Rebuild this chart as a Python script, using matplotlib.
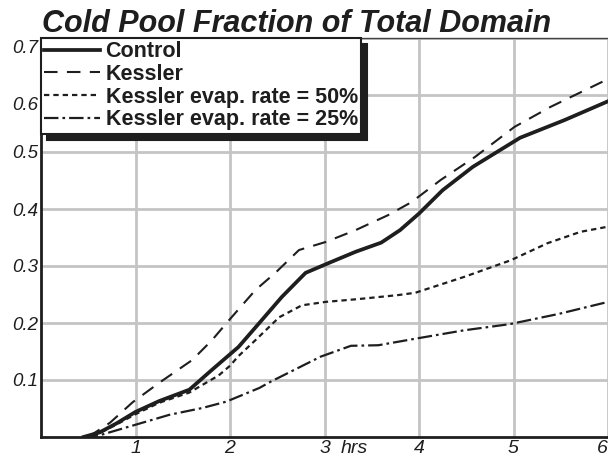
import matplotlib
matplotlib.use("Agg")
import matplotlib.pyplot as plt
from matplotlib.transforms import ScaledTranslation

plt.rcParams['font.family'] = ['Liberation Sans', 'DejaVu Sans']

# hours vs cold pool fraction
t_ctrl = [0.45, 0.62, 0.8, 1.0, 1.25, 1.57, 1.81, 2.09, 2.31, 2.55, 2.8, 3.07,
          3.33, 3.6, 3.8, 4.0, 4.25, 4.57, 5.07, 5.54, 6.0]
ctrl = [0, 0.008, 0.024, 0.044, 0.063, 0.083, 0.118, 0.158, 0.20, 0.246, 0.288,
        0.307, 0.325, 0.341, 0.363, 0.392, 0.433, 0.474, 0.525, 0.556, 0.589]

t_kess = [0.5, 0.73, 0.97, 1.25, 1.6, 1.81, 1.99, 2.27, 2.48, 2.73, 3.01, 3.33,
          3.67, 3.92, 4.23, 4.59, 5.01, 5.39, 6.0]
kess = [0, 0.025, 0.061, 0.095, 0.135, 0.17, 0.205, 0.258, 0.288, 0.328, 0.342,
        0.363, 0.389, 0.412, 0.451, 0.491, 0.544, 0.579, 0.628]

t_k50 = [0.45, 0.62, 0.8, 1.0, 1.25, 1.57, 1.88, 2.0, 2.09, 2.27, 2.52, 2.76,
         3.01, 3.36, 3.78, 3.96, 4.48, 4.97, 5.36, 5.71, 6.0]
k50 = [0, 0.007, 0.022, 0.04, 0.060, 0.078, 0.108, 0.125, 0.142, 0.17, 0.21,
       0.231, 0.237, 0.242, 0.249, 0.253, 0.281, 0.31, 0.34, 0.36, 0.369]

t_k25 = [0.45, 0.62, 1.01, 1.36, 1.71, 1.96, 2.31, 2.43, 2.96, 3.28, 3.57,
         3.98, 4.47, 4.96, 5.48, 6.0]
k25 = [0, 0.003, 0.022, 0.039, 0.051, 0.062, 0.086, 0.097, 0.141, 0.16, 0.161,
       0.173, 0.187, 0.198, 0.216, 0.237]

labels = ['Control', 'Kessler', 'Kessler evap. rate = 50%',
          'Kessler evap. rate = 25%']
xticks = [1, 2, 3, 4, 5, 6]
yticks = [0.1, 0.2, 0.3, 0.4, 0.5, 0.6, 0.7]

fig = plt.figure(figsize=(6.08, 4.59), dpi=100)
ax = fig.add_axes([41 / 608, 22 / 459, 567 / 608, 399 / 459])

ink = '#1e1e1e'
ax.plot(t_ctrl, ctrl, color=ink, lw=2.7, label=labels[0],
        solid_joinstyle='round')
ax.plot(t_kess, kess, color=ink, lw=1.5, dashes=(6.5, 4.5), label=labels[1])
ax.plot(t_k50, k50, color=ink, lw=1.6, dashes=(2.4, 1.8), label=labels[2])
ax.plot(t_k25, k25, color=ink, lw=1.6, dashes=(6.5, 1.8, 1.2, 1.8),
        label=labels[3])

ax.set_xlim(0, 6)
ax.set_ylim(0, 0.7)
ax.set_xticks(xticks)
ax.set_xticklabels([str(v) for v in xticks], fontstyle='italic', fontsize=14)
ax.set_yticks(yticks)
ax.set_yticklabels(['%.1f' % v for v in yticks], fontstyle='italic', fontsize=13.5)
ax.tick_params(axis='both', length=0, colors=ink)
ax.tick_params(axis='x', pad=2)
ax.tick_params(axis='y', pad=2)
ax.grid(True, color='#c4c4c4', lw=2.0)
ax.set_axisbelow(True)

ax.spines['right'].set_visible(False)
ax.spines['top'].set_color('#444444')
ax.spines['top'].set_linewidth(1.0)
for s in ('left', 'bottom'):
    ax.spines[s].set_color(ink)
    ax.spines[s].set_linewidth(2.0)

# top two y labels sit a bit lower in the original
for tick in ax.yaxis.get_major_ticks()[-2:]:
    tick.label1.set_transform(tick.label1.get_transform() +
                              ScaledTranslation(0, -6 / 72, fig.dpi_scale_trans))
# last x label would fall off the right edge
ax.get_xticklabels()[-1].set_ha('right')

ax.annotate('hrs', xy=(3, 0), xytext=(12, -2), textcoords='offset points',
            ha='left', va='top', fontstyle='italic', fontsize=14, color=ink)

leg = ax.legend(loc='upper left', bbox_to_anchor=(0, 1), borderaxespad=0,
                fancybox=False, edgecolor=ink, framealpha=1,
                prop={'weight': 'bold', 'size': 15.5}, handlelength=2.6,
                handletextpad=0.25, borderpad=0.15, labelspacing=0.08,
                shadow={'ox': 4.5, 'oy': -4.5, 'color': ink, 'alpha': 1})
leg.get_frame().set_linewidth(1.5)
for txt in leg.get_texts():
    txt.set_color(ink)

fig.text(42 / 608, 1 - 32 / 459, 'Cold Pool Fraction of Total Domain',
         fontsize=22, fontweight='bold', fontstyle='italic', color=ink,
         va='baseline', ha='left')

fig.savefig('out.png', dpi=100)
